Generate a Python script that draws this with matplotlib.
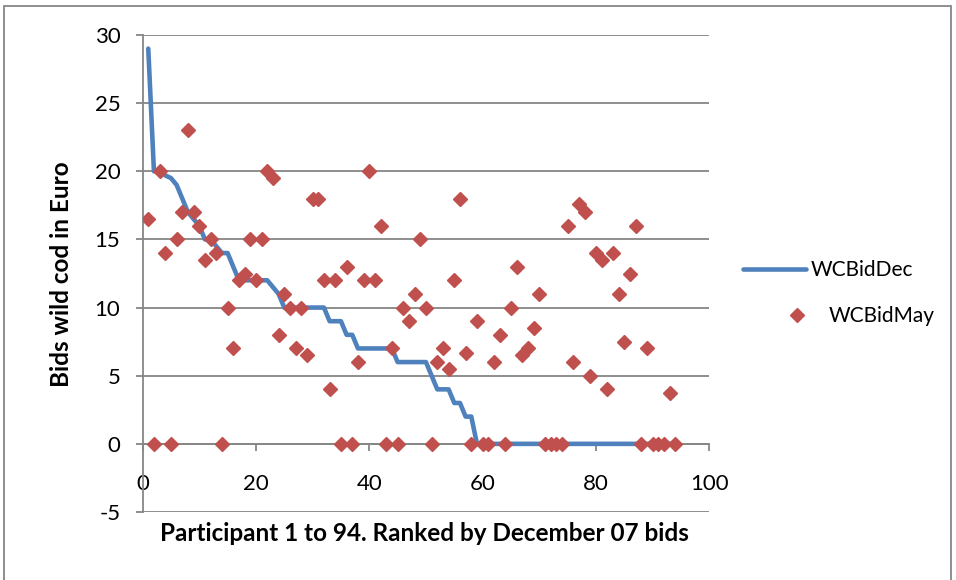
import matplotlib
matplotlib.use("Agg")
import matplotlib.pyplot as plt
from matplotlib.patches import Rectangle

plt.rcParams['font.family'] = ['Lato', 'DejaVu Sans']

participants = list(range(1, 95))

wc_bid_dec = [29, 20, 20, 19.7, 19.5, 19, 18, 17, 16.5, 16,
              15, 15, 14.5, 14, 14, 13, 12, 12, 12, 12,
              12, 12, 11.5, 11, 10, 10, 10, 10, 10, 10,
              10, 10, 9, 9, 9, 8, 8, 7, 7, 7,
              7, 7, 7, 7, 6, 6, 6, 6, 6, 6,
              5, 4, 4, 4, 3, 3, 2, 2, 0, 0,
              0, 0, 0, 0, 0, 0, 0, 0, 0, 0,
              0, 0, 0, 0, 0, 0, 0, 0, 0, 0,
              0, 0, 0, 0, 0, 0, 0, 0, 0, 0,
              0, 0, 0, 0]

wc_bid_may = [16.5, 0, 20, 14, 0, 15, 17, 23, 17, 16,
              13.5, 15, 14, 0, 10, 7, 12, 12.5, 15, 12,
              15, 20, 19.5, 8, 11, 10, 7, 10, 6.5, 18,
              18, 12, 4, 12, 0, 13, 0, 6, 12, 20,
              12, 16, 0, 7, 0, 10, 9, 11, 15, 10,
              0, 6, 7, 5.5, 12, 18, 6.7, 0, 9, 0,
              0, 6, 8, 0, 10, 13, 6.5, 7, 8.5, 11,
              0, 0, 0, 0, 16, 6, 17.6, 17, 5, 14,
              13.5, 4, 14, 11, 7.5, 12.5, 16, 0, 7, 0,
              0, 0, 3.75, 0]

x_ticks = [0, 20, 40, 60, 80, 100]
y_ticks = [-5, 0, 5, 10, 15, 20, 25, 30]

W, H = 956, 580
fig = plt.figure(figsize=(W / 100, H / 100), dpi=100)
ax = fig.add_axes([142.6 / W, 1 - 512 / H, (709.3 - 142.6) / W, (512 - 35) / H])

grid_c = '#868686'
line_dec, = ax.plot(participants, wc_bid_dec, color='#4F81BD', lw=3.3, label='WCBidDec',
                    solid_joinstyle='round', solid_capstyle='round', zorder=3)
pts_may, = ax.plot(participants, wc_bid_may, linestyle='none', marker='D', markersize=7.2,
                   color='#C0504D', markeredgecolor='#C0504D', label='WCBidMay', zorder=4)

ax.set_xlim(0, 100)
ax.set_ylim(-5, 30)
ax.set_xticks(x_ticks)
ax.set_yticks(y_ticks)
ax.set_yticklabels([str(v) for v in y_ticks])

ax.yaxis.grid(True, color=grid_c, lw=1.3)
ax.set_axisbelow(True)
for s in ['top', 'right']:
    ax.spines[s].set_visible(False)
ax.spines['bottom'].set_position(('data', 0))
ax.spines['bottom'].set_color(grid_c)
ax.spines['bottom'].set_linewidth(1.3)
ax.spines['left'].set_color(grid_c)
ax.spines['left'].set_linewidth(1.3)

ax.tick_params(axis='y', direction='out', length=5, width=1.3, color=grid_c,
               pad=11, labelsize=16, labelcolor='black')
ax.tick_params(axis='x', direction='out', length=5, width=1.3, color=grid_c,
               pad=17, labelsize=16, labelcolor='black')

ax.set_ylabel('Bids wild cod in Euro', fontsize=17.5, fontweight='bold')
ax.yaxis.set_label_coords(-0.122, 0.499)
ax.set_xlabel('Participant 1 to 94. Ranked by December 07 bids', fontsize=17.5,
              fontweight='bold')
ax.xaxis.set_label_coords(0.498, -0.022)

fs_leg = 15
fig.legend(handles=[line_dec], loc='center left',
           bbox_to_anchor=(743 / W, 1 - 270 / H), frameon=False,
           fontsize=fs_leg, handlelength=3.0, handletextpad=0.25,
           borderpad=0, borderaxespad=0)
fig.legend(handles=[pts_may], loc='center left', numpoints=1,
           bbox_to_anchor=(777 / W, 1 - 316 / H), frameon=False,
           fontsize=fs_leg, handlelength=1.9, handletextpad=0.6,
           borderpad=0, borderaxespad=0)

fig.patches.append(Rectangle((4 / W, -0.01), (951 - 4) / W, (1 - 6 / H) + 0.01,
                             transform=fig.transFigure, fill=False,
                             edgecolor=grid_c, lw=1.3))

fig.savefig('out.png', dpi=100)
